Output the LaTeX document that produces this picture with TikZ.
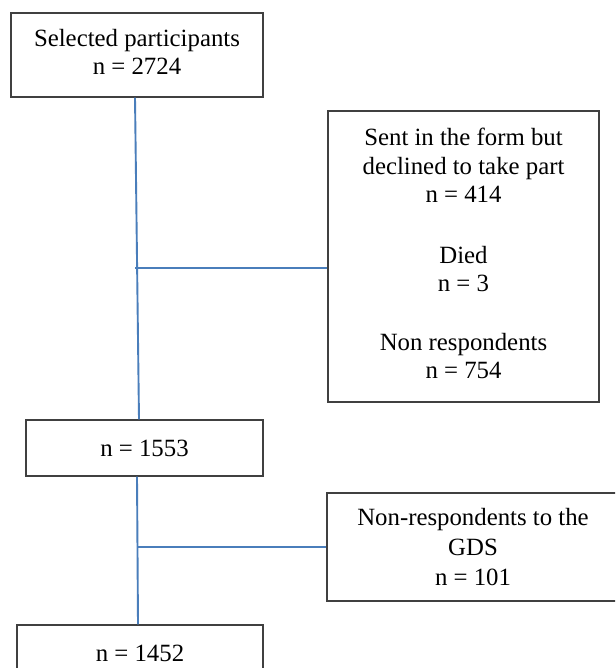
\documentclass[tikz,border=0pt]{standalone}
\usepackage{fontspec}
\setmainfont{Liberation Serif}
\definecolor{boxline}{HTML}{404040}
\definecolor{connblue}{HTML}{4A7EBB}
\newcommand{\lowpad}{\rule[-6pt]{0pt}{1pt}}
\begin{document}
\begin{tikzpicture}[x=1pt,y=-1pt,
  box/.style={draw=boxline, line width=1.1pt, rectangle, align=center, inner sep=0pt,
    font=\fontsize{24.8}{28.5}\selectfont},
  conn/.style={draw=connblue, line width=1.9pt}]
\useasboundingbox (0,0) rectangle (615,668);
\clip (0,0) rectangle (615,668);
\fill[white] (0,0) rectangle (615,668);
\node[box, minimum width=252pt, minimum height=84pt] (sel) at (137,55)
  {Selected participants\\n = 2724\lowpad};
\node[box, minimum width=271pt, minimum height=291pt] (excl1) at (463.5,256.5)
  {Sent in the form but\\declined to take part\\n = 414\\[32pt]Died\\n = 3\\[30pt]Non respondents\\n = 754\lowpad};
\node[box, minimum width=237pt, minimum height=56pt] (n1553) at (144.5,448)
  {n = 1553};
\node[box, minimum width=292pt, minimum height=108pt,
  font=\fontsize{24.8}{30}\selectfont] (excl2) at (473,547)
  {Non-respondents to the\\GDS\\n = 101};
\node[box, minimum width=246pt, minimum height=56pt] (n1452) at (140,653)
  {n = 1452};
\draw[conn] ([xshift=-2pt]sel.south) -- ([xshift=-5.5pt]n1553.north);
\draw[conn] ([yshift=-11.5pt]excl1.west) -- +(-192,0);
\draw[conn] ([xshift=-7.5pt]n1553.south) -- ([xshift=-2pt]n1452.north);
\draw[conn] (excl2.west) -- +(-188,0);
\end{tikzpicture}
\end{document}
